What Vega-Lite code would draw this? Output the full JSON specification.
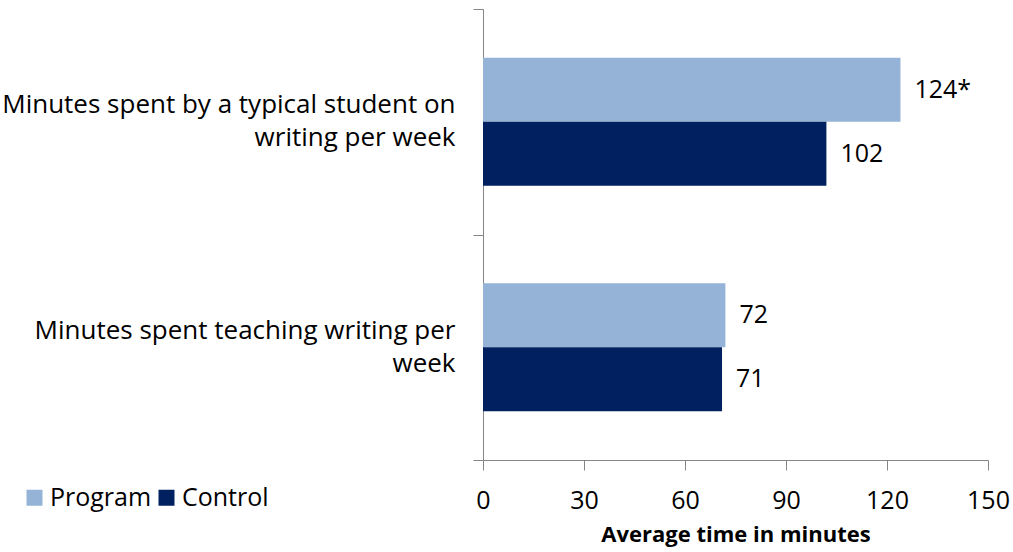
{
  "$schema": "https://vega.github.io/schema/vega-lite/v6.json",
  "width": 505,
  "height": 451,
  "autosize": {"type": "none"},
  "padding": {"left": 483, "top": 9, "right": 25, "bottom": 92},
  "config": {"font": "Open Sans", "view": {"stroke": null}},
  "data": {
    "values": [
      {"item": "Minutes spent by a typical student on|writing per week", "group": "Program", "value": 124, "label": "124*"},
      {"item": "Minutes spent by a typical student on|writing per week", "group": "Control", "value": 102, "label": "102"},
      {"item": "Minutes spent teaching writing per|week", "group": "Program", "value": 72, "label": "72"},
      {"item": "Minutes spent teaching writing per|week", "group": "Control", "value": 71, "label": "71"}
    ]
  },
  "encoding": {
    "y": {
      "field": "item", "type": "nominal", "sort": null,
      "scale": {"paddingInner": 0, "paddingOuter": 0},
      "axis": {
        "title": null,
        "labelExpr": "split(datum.label, '|')",
        "tickBand": "extent",
        "domainColor": "#868686", "tickColor": "#868686", "tickSize": 10,
        "labelFontSize": 26, "labelColor": "#000000", "labelPadding": 18,
        "labelLimit": 600, "labelLineHeight": 33, "labelOffset": -17
      }
    },
    "yOffset": {
      "field": "group", "type": "nominal", "sort": ["Program", "Control"],
      "scale": {"paddingInner": 0, "paddingOuter": 0.76}
    },
    "x": {
      "field": "value", "type": "quantitative",
      "scale": {"domain": [0, 150]},
      "axis": {
        "values": [0, 30, 60, 90, 120, 150],
        "grid": false,
        "title": "Average time in minutes",
        "titleFontSize": 22, "titleFontWeight": "bold", "titleColor": "#000000", "titlePadding": 11,
        "domainColor": "#868686", "tickColor": "#868686", "tickSize": 10,
        "labelFontSize": 25, "labelColor": "#000000", "labelPadding": 18,
        "labelFlush": false
      }
    }
  },
  "layer": [
    {
      "mark": {"type": "bar"},
      "encoding": {
        "color": {
          "field": "group", "type": "nominal",
          "scale": {"domain": ["Program", "Control"], "range": ["#95B3D7", "#002060"]},
          "legend": {
            "title": null, "orient": "none", "direction": "horizontal",
            "legendX": -461, "legendY": 476,
            "symbolType": "square", "symbolSize": 256, "symbolStrokeWidth": 0,
            "labelFontSize": 25, "labelColor": "#000000", "columnPadding": 2, "labelOffset": 3
          }
        }
      }
    },
    {
      "mark": {"type": "text", "align": "left", "baseline": "middle", "dx": 14, "fontSize": 25, "color": "#000000"},
      "encoding": {"text": {"field": "label"}}
    }
  ]
}
